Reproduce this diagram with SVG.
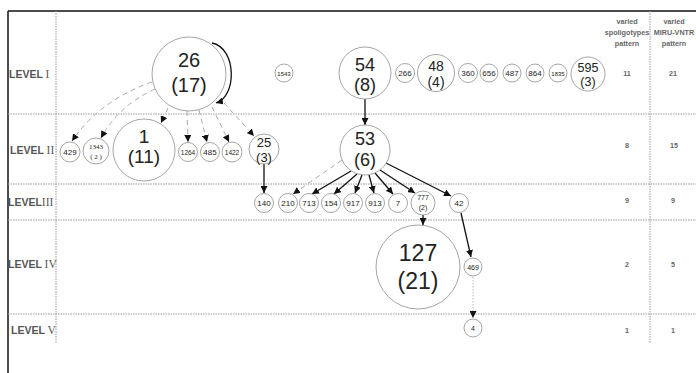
<svg xmlns="http://www.w3.org/2000/svg" width="696" height="373" viewBox="0 0 696 373">
<defs>
<marker id="ah" viewBox="0 0 10 10" refX="10" refY="5" markerWidth="7" markerHeight="7" orient="auto" markerUnits="userSpaceOnUse"><path d="M0,0 L10,5 L0,10 z" fill="#111"/></marker>
<style>
.grid{stroke:#999;stroke-width:1;stroke-dasharray:1.5,1;fill:none}
.frame{stroke:#111;stroke-width:1.5;fill:none}
.n{fill:#fff;stroke:#8e8e8e;stroke-width:0.8}
.t{font-family:"Liberation Sans",Arial,sans-serif;fill:#222;text-anchor:middle}
.s{font-size:8px}
.ser{font-family:"Liberation Serif","Times New Roman",serif;fill:#222;text-anchor:middle}
.lv{font-family:"Liberation Sans",Arial,sans-serif;font-weight:bold;font-size:10.5px;fill:#555}
.rn{font-family:"Liberation Serif","Times New Roman",serif;font-weight:normal;font-size:11.5px}
.hd{font-family:"Liberation Sans",Arial,sans-serif;font-weight:bold;font-size:7.2px;fill:#666;text-anchor:middle}
.sol{stroke:#111;stroke-width:1.3;fill:none;marker-end:url(#ah)}
.das{stroke:#aaa;stroke-width:1;stroke-dasharray:5,4;fill:none;marker-end:url(#ah)}
.dot{stroke:#bbb;stroke-width:1;stroke-dasharray:1.5,1.5;fill:none;marker-end:url(#ah)}
</style>
</defs>
<rect width="696" height="373" fill="#fff"/>
<g id="grid">
<line class="frame" x1="8" y1="11" x2="696" y2="11"/>
<line class="frame" x1="8" y1="11" x2="8" y2="373"/>
<line class="grid" x1="56" y1="11" x2="56" y2="343"/>
<line class="grid" x1="650" y1="11" x2="650" y2="343"/>
<line class="grid" x1="8" y1="114" x2="696" y2="114"/>
<line class="grid" x1="8" y1="184" x2="696" y2="184"/>
<line class="grid" x1="8" y1="220" x2="696" y2="220"/>
<line class="grid" x1="8" y1="314" x2="696" y2="314"/>
</g>
<g id="labels">
<text class="lv" x="9" y="78">LEVEL <tspan class="rn">I</tspan></text>
<text class="lv" x="10" y="154">LEVEL <tspan class="rn">II</tspan></text>
<text class="lv" x="8" y="206">LEVEL<tspan class="rn">III</tspan></text>
<text class="lv" x="8" y="268">LEVEL <tspan class="rn">IV</tspan></text>
<text class="lv" x="11" y="334">LEVEL <tspan class="rn">V</tspan></text>
<text class="hd" x="627" y="24">varied</text>
<text class="hd" x="627" y="35">spoligotypes</text>
<text class="hd" x="627" y="46">pattern</text>
<text class="hd" x="674" y="24">varied</text>
<text class="hd" x="674" y="35">MIRU-VNTR</text>
<text class="hd" x="674" y="46">pattern</text>
<text class="hd" x="627" y="76">11</text><text class="hd" x="673" y="76">21</text>
<text class="hd" x="627" y="148">8</text><text class="hd" x="674" y="148">15</text>
<text class="hd" x="627" y="203">9</text><text class="hd" x="673" y="203">9</text>
<text class="hd" x="627" y="267">2</text><text class="hd" x="673" y="267">5</text>
<text class="hd" x="627" y="333">1</text><text class="hd" x="673" y="333">1</text>
</g>
<g id="connectors">
<path class="sol" d="M212,43 C237,48 237,97 216,103"/>
<path class="das" d="M152,82 Q100,100 72,141"/>
<path class="das" d="M155,89 Q118,106 101,138"/>
<path class="das" d="M168,108 L161,123"/>
<path class="das" d="M187,111 L188,142"/>
<path class="das" d="M199,110 L207,142"/>
<path class="das" d="M212,107 L229,142"/>
<path class="das" d="M224,103 L254,136"/>
<path class="sol" d="M365,99 L365,125"/>
<path class="das" d="M342,160 L293,194"/>
<path class="sol" d="M351,171 L312,194"/>
<path class="sol" d="M357,174 L334,194"/>
<path class="sol" d="M362,175 L355,193"/>
<path class="sol" d="M369,175 L374,193"/>
<path class="sol" d="M375,173 L393,194"/>
<path class="sol" d="M380,170 L415,193"/>
<path class="sol" d="M386,163 L451,196"/>
<path class="sol" d="M264,164 L264,193"/>
<path class="sol" d="M423,215 L423,225"/>
<path class="sol" d="M461,213 L471,257"/>
<path class="dot" d="M473,277 L473,318"/>
</g>
<g id="n26"><circle class="n" cx="189" cy="74" r="37"/><text class="t" x="189" y="67" font-size="20">26</text><text class="t" x="189" y="92" font-size="20">(17)</text></g>
<g id="n1543"><circle class="n" cx="284" cy="73" r="9"/><text class="t" x="284" y="75.5" font-size="6">1543</text></g>
<g id="n54"><circle class="n" cx="365" cy="73" r="26"/><text class="t" x="365" y="71" font-size="18">54</text><text class="t" x="365" y="91" font-size="18">(8)</text></g>
<g id="n266"><circle class="n" cx="405" cy="73" r="9.5"/><text class="t s" x="405" y="76">266</text></g>
<g id="n48"><circle class="n" cx="436" cy="73" r="18.5"/><text class="t" x="436" y="71" font-size="14">48</text><text class="t" x="436" y="87" font-size="14">(4)</text></g>
<g id="n360"><circle class="n" cx="468" cy="73" r="9.5"/><text class="t s" x="468" y="76">360</text></g>
<g id="n656"><circle class="n" cx="489" cy="73" r="9"/><text class="t s" x="489" y="76">656</text></g>
<g id="n487"><circle class="n" cx="512" cy="73" r="9"/><text class="t s" x="512" y="76">487</text></g>
<g id="n864"><circle class="n" cx="535" cy="73" r="9"/><text class="t s" x="535" y="76">864</text></g>
<g id="n1835"><circle class="n" cx="558" cy="73" r="9"/><text class="t" x="558" y="75.5" font-size="6">1835</text></g>
<g id="n595"><circle class="n" cx="588" cy="74" r="17"/><text class="t" x="588" y="72" font-size="12.5">595</text><text class="t" x="588" y="86" font-size="12.5">(3)</text></g>
<g id="n429"><circle class="n" cx="70" cy="152" r="10"/><text class="t s" x="70" y="155">429</text></g>
<g id="n1343"><circle class="n" cx="96" cy="151" r="13"/><text class="ser" x="96" y="149" font-size="7">1343</text><text class="ser" x="96" y="159" font-size="7">( 2 )</text></g>
<g id="n1"><circle class="n" cx="144" cy="150" r="31"/><text class="t" x="144" y="143" font-size="19">1</text><text class="t" x="144" y="163" font-size="19">(11)</text></g>
<g id="n1264"><circle class="n" cx="188" cy="152" r="9.5"/><text class="t" x="188" y="154.5" font-size="6.5">1264</text></g>
<g id="n485"><circle class="n" cx="210" cy="152" r="9.5"/><text class="t s" x="210" y="155">485</text></g>
<g id="n1422"><circle class="n" cx="232" cy="152" r="10"/><text class="t" x="232" y="154.5" font-size="6.5">1422</text></g>
<g id="n25"><circle class="n" cx="264" cy="149" r="15"/><text class="t" x="264" y="147" font-size="13">25</text><text class="t" x="264" y="162" font-size="13">(3)</text></g>
<g id="n53"><circle class="n" cx="365" cy="150" r="25"/><text class="t" x="365" y="145" font-size="18">53</text><text class="t" x="365" y="166" font-size="18">(6)</text></g>
<g id="n140"><circle class="n" cx="264" cy="203" r="9.5"/><text class="t s" x="264" y="206">140</text></g>
<g id="n210"><circle class="n" cx="288" cy="203" r="9.5"/><text class="t s" x="288" y="206">210</text></g>
<g id="n713"><circle class="n" cx="309" cy="203" r="9.5"/><text class="t s" x="309" y="206">713</text></g>
<g id="n154"><circle class="n" cx="331" cy="203" r="9.5"/><text class="t s" x="331" y="206">154</text></g>
<g id="n917"><circle class="n" cx="353" cy="203" r="9.5"/><text class="t s" x="353" y="206">917</text></g>
<g id="n913"><circle class="n" cx="375" cy="203" r="9.5"/><text class="t s" x="375" y="206">913</text></g>
<g id="n7"><circle class="n" cx="398" cy="203" r="9.5"/><text class="t s" x="398" y="206">7</text></g>
<g id="n777"><circle class="n" cx="423" cy="203" r="12"/><text class="t" x="423" y="200" font-size="7">777</text><text class="t" x="423" y="210" font-size="7">(2)</text></g>
<g id="n42"><circle class="n" cx="459" cy="203" r="9.5"/><text class="t s" x="459" y="206">42</text></g>
<g id="n127"><circle class="n" cx="418" cy="267" r="42"/><text class="t" x="418" y="261" font-size="23">127</text><text class="t" x="418" y="289" font-size="23">(21)</text></g>
<g id="n469"><circle class="n" cx="473" cy="267" r="9"/><text class="t" x="473" y="269.5" font-size="7">469</text></g>
<g id="n4"><circle class="n" cx="473" cy="328" r="9"/><text class="t" x="473" y="330.5" font-size="7">4</text></g>
</svg>
